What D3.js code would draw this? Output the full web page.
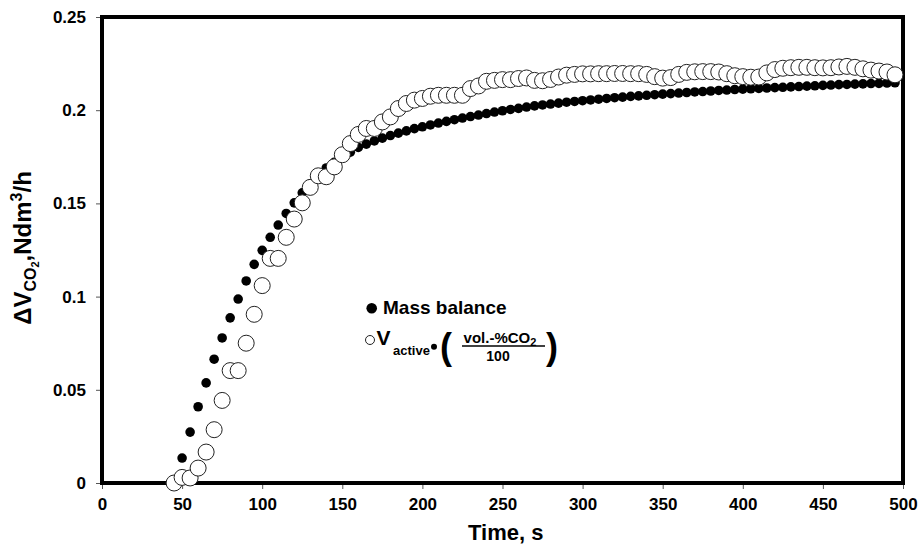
<!DOCTYPE html>
<html>
<head>
<meta charset="utf-8">
<script src="https://cdn.jsdelivr.net/npm/d3@7"></script>
<style>
  body { margin: 0; background: #fff; }
  text { font-family: "Liberation Sans", Arial, sans-serif; font-weight: bold; fill: #000; }
</style>
</head>
<body>
<div id="chart"></div>
<script>
// time axis (s), every 5 s
const massTime = d3.range(45, 500, 5);
const massBalance = [
    0.0000, 0.0134, 0.0273, 0.0409, 0.0537, 0.0664, 0.0778, 0.0886, 0.0987, 0.1084,
    0.1173, 0.1248, 0.1318, 0.1384, 0.1446, 0.1503, 0.1557, 0.1605, 0.1650, 0.1690,
    0.1720, 0.1748, 0.1775, 0.1800, 0.1818, 0.1835, 0.1850, 0.1864, 0.1877, 0.1889,
    0.1901, 0.1911, 0.1921, 0.1931, 0.1940, 0.1949, 0.1958, 0.1966, 0.1974, 0.1982,
    0.1990, 0.1997, 0.2004, 0.2010, 0.2017, 0.2023, 0.2028, 0.2033, 0.2038, 0.2043,
    0.2047, 0.2051, 0.2055, 0.2059, 0.2063, 0.2067, 0.2070, 0.2074, 0.2077, 0.2080,
    0.2083, 0.2086, 0.2089, 0.2092, 0.2095, 0.2098, 0.2100, 0.2103, 0.2106, 0.2108,
    0.2111, 0.2113, 0.2115, 0.2117, 0.2119, 0.2121, 0.2123, 0.2125, 0.2127, 0.2129,
    0.2131, 0.2133, 0.2135, 0.2137, 0.2138, 0.2140, 0.2141, 0.2143, 0.2144, 0.2146,
    0.2147
];

const activeTime = d3.range(45, 500, 5);
const activeVol = [
    0.0000, 0.0030, 0.0027, 0.0080, 0.0166, 0.0286, 0.0443, 0.0603, 0.0603, 0.0750,
    0.0905, 0.1059, 0.1205, 0.1205, 0.1318, 0.1416, 0.1503, 0.1586, 0.1648, 0.1643,
    0.1696, 0.1761, 0.1821, 0.1870, 0.1902, 0.1902, 0.1937, 0.1964, 0.2009, 0.2036,
    0.2054, 0.2063, 0.2075, 0.2080, 0.2080, 0.2080, 0.2080, 0.2116, 0.2130, 0.2155,
    0.2160, 0.2164, 0.2164, 0.2170, 0.2173, 0.2160, 0.2158, 0.2165, 0.2178, 0.2188,
    0.2192, 0.2195, 0.2195, 0.2196, 0.2196, 0.2197, 0.2197, 0.2196, 0.2196, 0.2192,
    0.2180, 0.2172, 0.2175, 0.2192, 0.2203, 0.2206, 0.2207, 0.2207, 0.2205, 0.2196,
    0.2185, 0.2180, 0.2177, 0.2178, 0.2200, 0.2218, 0.2225, 0.2228, 0.2230, 0.2230,
    0.2228, 0.2227, 0.2228, 0.2232, 0.2235, 0.2230, 0.2222, 0.2215, 0.2210, 0.2205,
    0.2190
];

const xTicks = [0, 50, 100, 150, 200, 250, 300, 350, 400, 450, 500];
const yTicks = [0, 0.05, 0.1, 0.15, 0.2, 0.25];

const margin = { top: 17, right: 17, bottom: 65, left: 102 };
const width = 920 - margin.left - margin.right;
const height = 548 - margin.top - margin.bottom;

const svg = d3.select("#chart").append("svg")
    .attr("width", 920)
    .attr("height", 548)
    .append("g")
    .attr("transform", "translate(" + margin.left + "," + margin.top + ")");

const x = d3.scaleLinear().domain([0, 500]).range([0, width]);
const y = d3.scaleLinear().domain([0, 0.25]).range([height, 0]);

// axes
const xAxis = svg.append("g")
    .attr("transform", "translate(0," + height + ")")
    .call(d3.axisBottom(x).tickValues(xTicks).tickSize(6).tickPadding(9).tickFormat(d3.format("d")));
const yAxis = svg.append("g")
    .call(d3.axisLeft(y).tickValues(yTicks).tickSize(6).tickPadding(10).tickFormat(d => d === 0 ? "0" : String(d)));

[xAxis, yAxis].forEach(a => {
    a.select(".domain").remove();
    a.selectAll(".tick line").attr("stroke", "#555").attr("stroke-width", 1);
    a.selectAll(".tick text")
        .style("font-family", "'Liberation Sans', Arial, sans-serif")
        .style("font-weight", "bold")
        .style("font-size", "17px")
        .attr("fill", "#000");
});

// frame
svg.append("rect")
    .attr("x", 0).attr("y", 0)
    .attr("width", width).attr("height", height)
    .attr("fill", "none")
    .attr("stroke", "#000")
    .attr("stroke-width", 4);

// mass balance (filled)
svg.append("g").selectAll("circle")
    .data(massTime.map((t, i) => [t, massBalance[i]]))
    .join("circle")
    .attr("cx", d => x(d[0]))
    .attr("cy", d => y(d[1]))
    .attr("r", 4.8)
    .attr("fill", "#000");

// V_active * vol-% / 100 (open)
svg.append("g").selectAll("circle")
    .data(activeTime.map((t, i) => [t, activeVol[i]]))
    .join("circle")
    .attr("cx", d => x(d[0]))
    .attr("cy", d => y(d[1]))
    .attr("r", 8)
    .attr("fill", "#fff")
    .attr("stroke", "#222")
    .attr("stroke-width", 1);

// axis titles
svg.append("text")
    .attr("x", x(252))
    .attr("y", height + 57)
    .attr("text-anchor", "middle")
    .style("font-size", "22px")
    .text("Time, s");

const yt = svg.append("text")
    .attr("transform", "translate(" + (31 - margin.left) + "," + (248 - margin.top) + ") rotate(-90)")
    .attr("text-anchor", "middle")
    .style("font-size", "24px");
yt.append("tspan").text("ΔV");
yt.append("tspan").style("font-size", "16px").attr("dy", 5).text("CO");
yt.append("tspan").style("font-size", "11px").attr("dy", 3).text("2");
yt.append("tspan").attr("dy", -8).text(",Ndm");
yt.append("tspan").style("font-size", "16px").attr("dy", -9).text("3");
yt.append("tspan").attr("dy", 9).text("/h");

// legend
const lg = svg.append("g").attr("transform", "translate(" + (-margin.left) + "," + (-margin.top) + ")");
lg.append("circle").attr("cx", 371.7).attr("cy", 308.3).attr("r", 5.3).attr("fill", "#000");
lg.append("text").attr("x", 383).attr("y", 314).style("font-size", "19px").text("Mass balance");

lg.append("circle").attr("cx", 370).attr("cy", 340).attr("r", 4.5)
    .attr("fill", "#fff").attr("stroke", "#222").attr("stroke-width", 1);
lg.append("text").attr("x", 376.5).attr("y", 345).style("font-size", "21px").text("V");
lg.append("text").attr("x", 393).attr("y", 355).style("font-size", "13px").text("active");
lg.append("circle").attr("cx", 434).attr("cy", 346.7).attr("r", 3).attr("fill", "#000");
lg.append("text").attr("x", 440).attr("y", 359).style("font-size", "36px").text("(");
const num = lg.append("text").attr("x", 500).attr("y", 342.5).attr("text-anchor", "middle").style("font-size", "15px");
num.append("tspan").text("vol.-%CO");
num.append("tspan").style("font-size", "11px").attr("dy", 3).text("2");
lg.append("line").attr("x1", 462).attr("x2", 545).attr("y1", 346).attr("y2", 346)
    .attr("stroke", "#000").attr("stroke-width", 1.5);
lg.append("text").attr("x", 498).attr("y", 360.5).attr("text-anchor", "middle").style("font-size", "14px").text("100");
lg.append("text").attr("x", 546).attr("y", 359).style("font-size", "36px").text(")");
</script>
</body>
</html>
